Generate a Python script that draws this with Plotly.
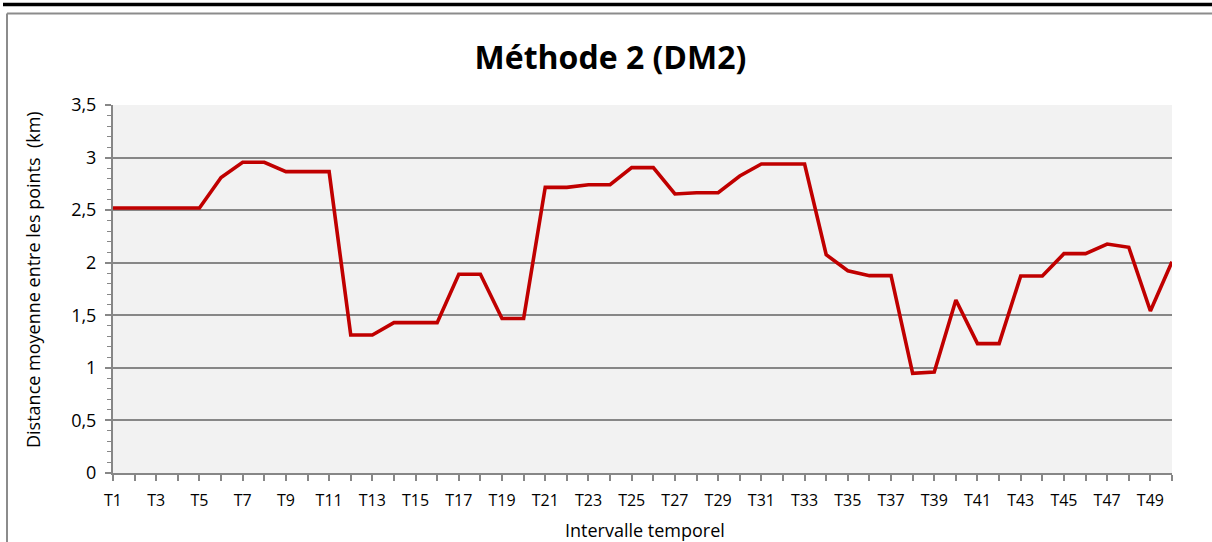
import plotly.graph_objects as go

# Intervals T1..T50 and the mean distance between points (km)
categories = [f"T{i}" for i in range(1, 51)]
distance_km = [
    2.52, 2.52, 2.52, 2.52, 2.52, 2.81, 2.955, 2.955, 2.866, 2.866,
    2.866, 1.313, 1.313, 1.43, 1.43, 1.43, 1.89, 1.89, 1.47, 1.47,
    2.717, 2.717, 2.742, 2.742, 2.904, 2.904, 2.654, 2.666, 2.666, 2.825,
    2.939, 2.939, 2.939, 2.076, 1.924, 1.877, 1.877, 0.948, 0.96, 1.645,
    1.23, 1.23, 1.874, 1.874, 2.086, 2.086, 2.178, 2.147, 1.541, 2.01,
]
# every other interval is labelled on the axis
tick_labels = [c if i % 2 == 0 else "" for i, c in enumerate(categories)]

W, H = 1212, 542
L, R, T, B = 113, 40, 105, 69
pw, ph = W - L - R, H - T - B


def px_x(x):
    return (x - L) / pw


def px_y(y):
    return (H - B - y) / ph


FONT = "Open Sans"
GRID = "#878787"
FRAME = "#8c8c8c"

fig = go.Figure()
fig.add_trace(go.Scatter(
    x=categories,
    y=distance_km,
    mode="lines",
    line=dict(color="#c00000", width=3.6),
    showlegend=False,
))

fig.update_layout(
    width=W,
    height=H,
    margin=dict(l=L, r=R, t=T, b=B, pad=0),
    paper_bgcolor="white",
    plot_bgcolor="#f2f2f2",
    separators=", ",
    font=dict(family=FONT, color="#000000"),
    title=dict(
        text="<b>Méthode 2 (DM2)</b>",
        font=dict(family=FONT, size=32, color="#000000"),
        x=0.5037, xref="container", xanchor="center",
        y=1 - 58 / H, yref="container", yanchor="middle",
    ),
    xaxis=dict(
        type="category",
        range=[0, len(categories) - 1],
        tickmode="array",
        tickvals=categories,
        ticktext=tick_labels,
        ticks="outside",
        ticklen=6,
        tickwidth=1.5,
        tickcolor=GRID,
        showline=True,
        linecolor=GRID,
        linewidth=2,
        showgrid=False,
        tickfont=dict(family=FONT, size=16, color="#000000"),
        ticklabelstandoff=6,
        zeroline=False,
    ),
    yaxis=dict(
        range=[0, 3.5],
        dtick=0.5,
        tick0=0,
        ticks="outside",
        ticklen=6,
        tickwidth=1.5,
        tickcolor=GRID,
        showline=True,
        linecolor=GRID,
        linewidth=2,
        showgrid=True,
        gridcolor=GRID,
        gridwidth=1.5,
        zeroline=False,
        tickfont=dict(family=FONT, size=18, color="#000000"),
        ticklabelstandoff=5,
        minor=dict(dtick=0.1, ticks="outside", ticklen=4,
                   tickwidth=1.2, tickcolor=GRID, showgrid=False),
    ),
    shapes=[
        # heavy rule across the top of the page
        dict(type="line", xref="paper", yref="paper",
             x0=px_x(3), x1=px_x(W), y0=px_y(4.5), y1=px_y(4.5),
             line=dict(color="#000000", width=3.5)),
        # chart frame (top and left edges)
        dict(type="line", xref="paper", yref="paper",
             x0=px_x(7), x1=px_x(W), y0=px_y(13.5), y1=px_y(13.5),
             line=dict(color=FRAME, width=2)),
        dict(type="line", xref="paper", yref="paper",
             x0=px_x(7), x1=px_x(7), y0=px_y(13.5), y1=px_y(H),
             line=dict(color=FRAME, width=2)),
    ],
    annotations=[
        dict(text="Distance moyenne entre les points \u00a0(km)",
             xref="paper", yref="paper", x=px_x(33), y=px_y(280),
             xanchor="center", yanchor="middle", textangle=-90,
             showarrow=False, font=dict(family=FONT, size=18, color="#000000")),
        dict(text="Intervalle temporel",
             xref="paper", yref="paper", x=px_x(645), y=px_y(530),
             xanchor="center", yanchor="middle",
             showarrow=False, font=dict(family=FONT, size=18, color="#000000")),
    ],
)

fig.write_html("out.html")
